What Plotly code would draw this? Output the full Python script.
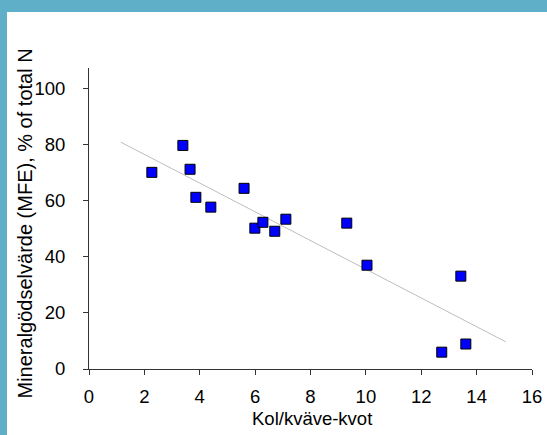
import numpy as np
import plotly.graph_objects as go

# C/N ratio and mineral fertiliser equivalent (MFE, % of total N)
cn_ratio = [2.27, 3.39, 3.65, 3.86, 4.40, 5.60, 5.99, 6.28, 6.71, 7.11,
            9.31, 10.04, 13.43, 12.74, 13.61]
mfe_pct = [70.1, 79.7, 71.2, 61.2, 57.7, 64.4, 50.2, 52.3, 49.1, 53.4,
           52.0, 37.0, 33.1, 6.0, 8.9]

x_ticks = [0, 2, 4, 6, 8, 10, 12, 14, 16]
y_ticks = [0, 20, 40, 60, 80, 100]

# Linear trendline span (with a little forecast on both sides)
trend_span = [1.15, 15.05]

slope, intercept = np.polyfit(cn_ratio, mfe_pct, 1)
trend_x = np.array(trend_span)
trend_y = slope * trend_x + intercept

FONT = "Liberation Sans, Arial, sans-serif"
TEAL = "#5FAFC8"

fig = go.Figure()
fig.add_trace(go.Scatter(
    x=trend_x, y=trend_y, mode="lines",
    line=dict(color="#BDBDBD", width=1), hoverinfo="skip", showlegend=False,
))
fig.add_trace(go.Scatter(
    x=cn_ratio, y=mfe_pct, mode="markers",
    marker=dict(symbol="square", size=10, color="#0000FF",
                line=dict(color="#000000", width=1)),
    showlegend=False,
))

W, H = 547, 435
L, R, T, B = 89, 15, 68, 66
pw, ph = W - L - R, H - T - B

def px_x(p):
    return (p - L) / pw

def px_y(p):
    return (H - B - p) / ph

axis_common = dict(
    automargin=False,
    showline=True, linecolor="#333333", linewidth=1,
    ticks="outside", ticklen=5, tickcolor="#333333", tickwidth=1,
    showgrid=False, zeroline=False,
    tickfont=dict(family=FONT, size=18.5, color="#000000"),
)

fig.update_layout(
    template="none",
    width=W, height=H,
    margin=dict(l=L, r=R, t=T, b=B, autoexpand=False),
    paper_bgcolor=TEAL, plot_bgcolor="white",
    xaxis=dict(range=[0, 16], tickvals=x_ticks, ticklabelstandoff=6, **axis_common),
    yaxis=dict(range=[0, 107.3], tickvals=y_ticks, ticklabelstandoff=14, **axis_common),
    shapes=[
        # white page area inside the coloured frame
        dict(type="rect", xref="paper", yref="paper",
             x0=px_x(7), x1=px_x(W), y0=px_y(H), y1=px_y(12),
             fillcolor="white", line=dict(width=0), layer="below"),
    ],
    annotations=[
        dict(text="Kol/kväve-kvot", xref="paper", yref="paper",
             x=px_x(311.5), y=px_y(418), xanchor="center", yanchor="middle",
             showarrow=False, font=dict(family=FONT, size=18.5, color="#000000")),
        dict(text="Mineralgödselvärde (MFE), % of total N", xref="paper", yref="paper",
             x=px_x(24), y=px_y(223.5), xanchor="center", yanchor="middle",
             textangle=-90, showarrow=False,
             font=dict(family=FONT, size=20, color="#000000")),
    ],
)

fig.write_html("out.html")
